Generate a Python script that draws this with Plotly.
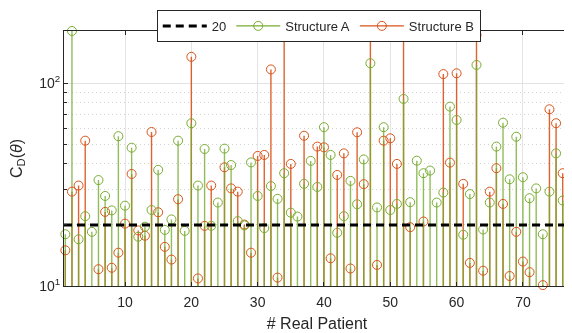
import math
import plotly.graph_objects as go

patients = list(range(1, 78))

structure_a = [18.0, 181, 17.0, 22.1, 18.5, 33.3, 27.8, 23.6, 54.8, 24.9,
               48.1, 17.5, 19.6, 23.7, 37.4, 18.9, 21.3, 52.1, 18.7, 63.5,
               31.3, 47.4, 19.8, 25.8, 47.6, 39.5, 20.9, 19.9, 40.7, 27.8,
               19.3, 31.1, 26.9, 36.0, 23.0, 22.0, 31.9, 41.4, 30.8, 60.7,
               44.3, 18.3, 22.1, 33.0, 25.3, 42.1, 125.5, 24.4, 60.7, 23.7,
               25.4, 83.7, 25.9, 41.5, 36.0, 37.1, 25.8, 28.9, 76.7, 65.9,
               17.9, 28.4, 123.1, 19.0, 25.8, 48.7, 63.9, 33.6, 54.5, 34.4,
               27.1, 30.3, 18.0, 29.2, 45.1, 26.4, 22.4]

structure_b = [15.0, 29.2, 31.3, 52.1, None, 12.1, 23.2, 12.3, 14.6, 20.3,
               35.7, 18.8, 17.7, 57.5, 23.1, 15.6, 13.5, 26.8, None, 135,
               10.9, 19.8, 31.3, None, 38.5, 30.3, 29.2, 20.1, 14.6, 43.8,
               44.3, 117, 11.0, 250, 40.0, None, 55.1, None, 48.7, 48.3,
               13.7, 35.3, 45.1, 12.2, 57.3, 31.8, 250, 12.7, 52.1, 53.5,
               40.0, 250, 19.5, None, 20.8, None, None, 111, 40.6, 112,
               31.9, 13.0, 173, 11.9, 29.2, 38.1, 25.4, 11.2, 18.5, 13.2,
               11.7, None, 10.1, 74.4, 63.5, 36.0, 21.2]

ref_level = 20
x_ticks = [10, 20, 30, 40, 50, 60, 70]
y_major = [10, 100]
y_major_text = ["10<sup>1</sup>", "10<sup>2</sup>"]
y_minor = [20, 30, 40, 50, 60, 70, 80, 90]

X_RANGE = [0.8, 77.1]
Y_MIN, Y_MAX = 10, 181
Y_RANGE = [math.log10(Y_MIN), math.log10(Y_MAX)]

GREEN = "#77AC30"
ORANGE = "#D95319"
FONT = "Liberation Sans, Arial, sans-serif"
AX = "#262626"


def stems(xs, ys):
    sx, sy = [], []
    for x, y in zip(xs, ys):
        if y is None:
            continue
        sx += [x, x, None]
        sy += [1, y, None]
    return sx, sy


def visible_markers(xs, ys):
    px, py = [], []
    for x, y in zip(xs, ys):
        if y is not None and y <= Y_MAX * 1.03:
            px.append(x)
            py.append(y)
    return px, py


fig = go.Figure()

fig.add_trace(go.Scatter(x=[None], y=[None], yaxis="y2", showlegend=False,
                         hoverinfo="skip"))

for ys, col, op in [(structure_b, ORANGE, 0.9), (structure_a, GREEN, 0.8)]:
    sx, sy = stems(patients, ys)
    fig.add_trace(go.Scatter(x=sx, y=sy, mode="lines",
                             line=dict(color=col, width=1.4),
                             opacity=op, showlegend=False, hoverinfo="skip"))

for ys, col in [(structure_b, ORANGE), (structure_a, GREEN)]:
    px, py = visible_markers(patients, ys)
    fig.add_trace(go.Scatter(x=px, y=py, mode="markers",
                             marker=dict(symbol="circle-open", size=9,
                                         color=col, line=dict(width=1)),
                             cliponaxis=False, showlegend=False))

fig.add_trace(go.Scatter(x=X_RANGE, y=[ref_level, ref_level], mode="lines",
                         line=dict(color="black", width=3, dash="8px,5px"),
                         name=str(ref_level), showlegend=True))

for name, col in [("Structure A", GREEN), ("Structure B", ORANGE)]:
    fig.add_trace(go.Scatter(x=[None], y=[None], mode="lines+markers",
                             line=dict(color=col, width=1.2),
                             marker=dict(symbol="circle-open", size=9, color=col,
                                         line=dict(width=1)),
                             name=name))

axis_common = dict(showline=True, linecolor=AX, linewidth=1, mirror="ticks",
                   ticks="inside", tickcolor=AX, zeroline=False, automargin=False)

fig.update_layout(
    width=564, height=325,
    margin=dict(l=56, r=2, t=23, b=47, autoexpand=False),
    paper_bgcolor="white", plot_bgcolor="white",
    font=dict(family=FONT, size=14, color=AX),
    xaxis=dict(range=X_RANGE, tickvals=x_ticks, ticklen=4, ticklabelstandoff=3,
               showgrid=True, gridcolor="#e3e3e3", gridwidth=1,
               title=dict(text="# Real Patient", font=dict(size=16), standoff=9),
               tickfont=dict(size=14), **axis_common),
    yaxis=dict(type="log", range=Y_RANGE, tickvals=y_major, ticktext=y_major_text,
               ticklen=4, showgrid=True, gridcolor="#e3e3e3",
               title=dict(text="C<sub>D</sub>(<i>θ</i>)", font=dict(size=16), standoff=15),
               tickfont=dict(size=14), **axis_common),
    yaxis2=dict(type="log", range=Y_RANGE, overlaying="y", tickvals=y_minor,
                showticklabels=False, ticklen=2.5, showgrid=True,
                gridcolor="#d4d4d4", griddash="1px,3px", gridwidth=1,
                **axis_common),
    legend=dict(orientation="h", xref="container", yref="container",
                x=0.551, xanchor="center", y=0.994, yanchor="top",
                bgcolor="white", bordercolor=AX, borderwidth=1,
                font=dict(size=13), itemwidth=44, tracegroupgap=0),
)

fig.write_html("out.html")
